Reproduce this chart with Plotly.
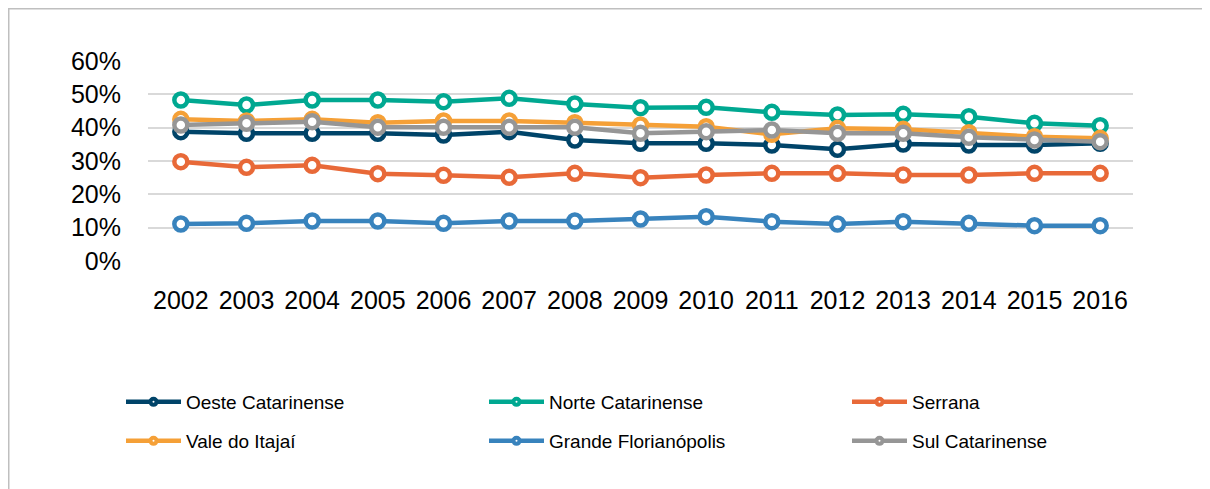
import plotly.graph_objects as go

years = ["2002", "2003", "2004", "2005", "2006", "2007", "2008", "2009",
         "2010", "2011", "2012", "2013", "2014", "2015", "2016"]

oeste = [0.388, 0.383, 0.383, 0.383, 0.378, 0.388, 0.363, 0.353, 0.353, 0.348, 0.335, 0.351, 0.348, 0.348, 0.353]
norte = [0.483, 0.468, 0.483, 0.483, 0.478, 0.488, 0.471, 0.460, 0.461, 0.446, 0.438, 0.440, 0.433, 0.413, 0.406]
serrana = [0.298, 0.281, 0.287, 0.262, 0.257, 0.251, 0.263, 0.250, 0.258, 0.263, 0.263, 0.258, 0.258, 0.263, 0.263]
vale = [0.425, 0.420, 0.425, 0.415, 0.420, 0.420, 0.415, 0.408, 0.403, 0.380, 0.398, 0.395, 0.385, 0.373, 0.368]
grande = [0.111, 0.113, 0.120, 0.120, 0.113, 0.120, 0.120, 0.126, 0.133, 0.118, 0.111, 0.118, 0.113, 0.106, 0.106]
sul = [0.408, 0.413, 0.418, 0.401, 0.401, 0.401, 0.401, 0.383, 0.388, 0.393, 0.383, 0.383, 0.371, 0.363, 0.358]

series_names = ["Oeste Catarinense", "Norte Catarinense", "Serrana",
                "Vale do Itajaí", "Grande Florianópolis", "Sul Catarinense"]
series_values = [oeste, norte, serrana, vale, grande, sul]
series_colors = ["#004469", "#00A891", "#E86938", "#F5A037", "#3883BD", "#969696"]
series_legend = ["legend", "legend", "legend", "legend2", "legend2", "legend2"]

OFF = 8  # page body margin
W, H = 1210 - OFF, 489 - OFF
L, R, T, B = 148 - OFF, 77, 61 - OFF, 228
pw, ph = W - L - R, H - T - B

def px_x(p):
    return (p - OFF - L) / pw

def px_y(p):
    return (H - B - (p - OFF)) / ph

fig = go.Figure()
for name, vals, col in zip(series_names, series_values, series_colors):
    fig.add_trace(go.Scatter(
        x=years, y=vals, name=name, mode="lines+markers",
        line=dict(color=col, width=4.5),
        marker=dict(symbol="circle", size=13, color="white",
                    line=dict(color=col, width=4.5)),
        showlegend=False,
    ))

# legend entries (Excel-style small markers)
for name, col, lg in zip(series_names, series_colors, series_legend):
    fig.add_trace(go.Scatter(
        x=[None], y=[None], name=name, mode="lines+markers",
        line=dict(color=col, width=4.5),
        marker=dict(symbol="circle", size=6, color="white",
                    line=dict(color=col, width=4)),
        legend=lg, showlegend=True,
    ))

font_family = "Liberation Sans, Arial, sans-serif"
legend_common = dict(
    orientation="h", xanchor="left", yanchor="middle",
    font=dict(family=font_family, size=19, color="#000000"),
    entrywidth=293, entrywidthmode="pixels", itemwidth=55,
    bgcolor="rgba(0,0,0,0)", itemsizing="trace",
)

fig.update_layout(
    width=W, height=H,
    margin=dict(l=L, r=R, t=T, b=B, pad=0),
    paper_bgcolor="white", plot_bgcolor="white",
    showlegend=True,
    legend=dict(x=px_x(121), y=px_y(402), **legend_common),
    legend2=dict(x=px_x(121), y=px_y(441), **legend_common),
    xaxis=dict(
        type="category", range=[-0.5, 14.5],
        showgrid=False, zeroline=False, showline=False,
        ticks="", tickfont=dict(family=font_family, size=25, color="#000000"),
        ticklabelstandoff=22,
    ),
    yaxis=dict(
        range=[0, 0.6], dtick=0.1, tickformat=".0%",
        showgrid=True, gridcolor="#D9D9D9", gridwidth=1.5,
        zeroline=False, showline=False, ticks="",
        tickfont=dict(family=font_family, size=25, color="#000000"),
        ticklabelstandoff=26,
    ),
    shapes=[
        dict(type="line", xref="paper", yref="paper",
             x0=px_x(7), x1=px_x(1215), y0=px_y(8.5), y1=px_y(8.5),
             line=dict(color="#BFBFBF", width=2)),
        dict(type="line", xref="paper", yref="paper",
             x0=px_x(8.5), x1=px_x(8.5), y0=px_y(7), y1=px_y(495),
             line=dict(color="#BFBFBF", width=2)),
    ],
)

fig.write_html("out.html")
